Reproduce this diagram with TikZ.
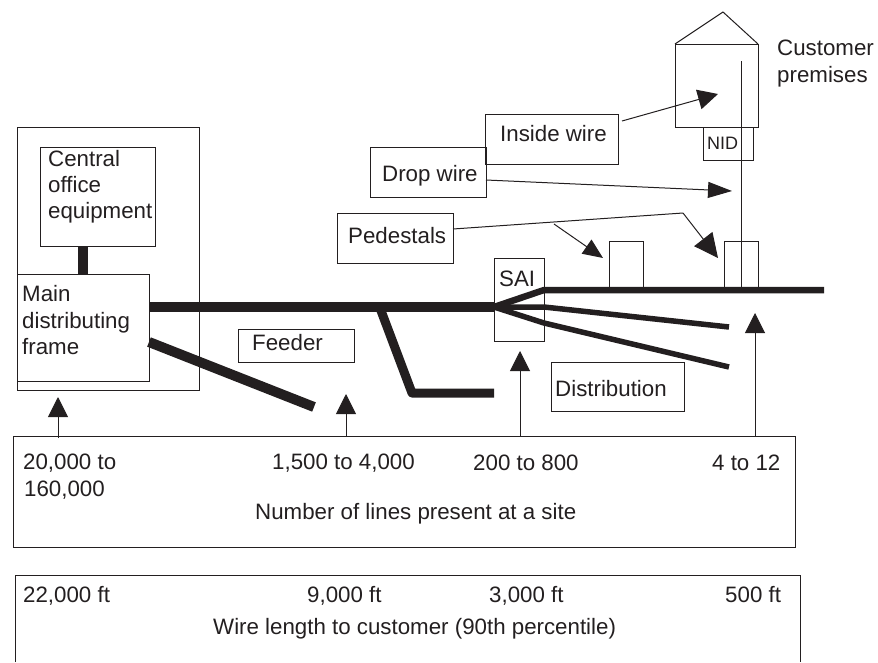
\documentclass[tikz,border=0pt]{standalone}
\usepackage{fontspec}
\setmainfont{Liberation Sans}
\usetikzlibrary{arrows.meta}
\definecolor{ink}{HTML}{231F20}
\tikzset{
  x=1pt,y=-1pt,
  boxd/.style={draw=ink,line width=1pt,fill=none},
  lbl/.style={font=\fontsize{22.3}{26}\selectfont,text=ink,inner sep=0pt,anchor=base west},
  thick wire/.style={draw=ink,line width=#1,line join=round},
  conn/.style={draw=ink,line width=1pt,-{Triangle[length=20pt,width=20pt]}},
  conndrop/.style={draw=ink,line width=1pt,-{Triangle[length=24pt,width=16pt]}},
  connped/.style={draw=ink,line width=1pt,-{Triangle[length=20pt,width=17pt]}},
  connbig/.style={draw=ink,line width=1pt,-{Triangle[length=24pt,width=23pt]}}
}
\begin{document}
\begin{tikzpicture}
\useasboundingbox (0,0) rectangle (878,662);
% boxes
\draw[boxd] (17,127) rectangle (199,390);
\draw[boxd] (40,147) rectangle (155,246);
\draw[thick wire=10pt] (83,246) -- (83,274);
\draw[boxd] (17,274) rectangle (149,381);
\draw[boxd] (485,114) rectangle (618,164);
\draw[boxd] (370,147) rectangle (486,197);
\draw[boxd] (337,213) rectangle (453,263);
\draw[boxd] (238,329) rectangle (354,362);
\draw[boxd] (494,258) rectangle (544,341);
\draw[boxd] (551,362) rectangle (684,411);
% house
\draw[boxd] (675,44) rectangle (758,127);
\draw[boxd] (675,44) -- (723,12) -- (758,44);
\draw[boxd] (703.5,127) rectangle (753,160);
\draw[boxd] (609,241) rectangle (643,288);
\draw[boxd] (724,241) rectangle (758,288);
\draw[boxd] (741,61) -- (741,290);
% thick wires
\draw[thick wire=10pt] (149,307) -- (494,307);
\draw[thick wire=6.5pt] (494,307) -- (544,290) -- (824,290);
\draw[thick wire=5.5pt] (494,307) -- (544,307) -- (729,327);
\draw[thick wire=5.5pt] (494,307) -- (544,323) -- (729,367);
\draw[thick wire=9pt] (380,308) -- (412,393) -- (494,393);
\draw[thick wire=10pt] (149,342) -- (314,407);
% arrows
\draw[conn] (622,121) -- (718,94);
\draw[conndrop] (486,180) -- (732,191);
\draw[boxd] (453,229) -- (683,213);
\draw[connbig] (683,213) -- (718,258);
\draw[connped] (554,224) -- (603,258);
\draw[conn] (58,438) -- (58,397);
\draw[conn] (346,436) -- (346,394);
\draw[conn] (520,436) -- (520,351);
\draw[conn] (755,436) -- (755,313);
% lower boxes
\draw[boxd] (13,436) rectangle (795,547);
\draw[boxd] (15,662) -- (15,575) -- (800,575) -- (800,662);
% labels
\node[lbl] (t1) at (48,166) {Central};
\node[lbl] (t2) at (48,192) {office};
\node[lbl] (t3) at (48,218) {equipment};
\node[lbl] (t4) at (22,301) {Main};
\node[lbl] (t5) at (22,328) {distributing};
\node[lbl] (t6) at (22,354) {frame};
\node[lbl] (t7) at (500,141) {Inside wire};
\node[lbl] (t8) at (382,181) {Drop wire};
\node[lbl] (t9) at (348,243) {Pedestals};
\node[lbl] (t10) at (252,350) {Feeder};
\node[lbl] (t11) at (499,286) {SAI};
\node[lbl] (t12) at (555,396) {Distribution};
\node[lbl] (t13) at (777,55) {Customer};
\node[lbl] (t14) at (777,82) {premises};
\node[lbl,font=\fontsize{18}{20}\selectfont] (t15) at (707,149) {NID};
\node[lbl] (t16) at (23,469) {20,000 to};
\node[lbl] (t17) at (24,496) {160,000};
\node[lbl] (t18) at (272,469) {1,500 to 4,000};
\node[lbl] (t19) at (473,470) {200 to 800};
\node[lbl] (t20) at (712,470) {4 to 12};
\node[lbl] (t21) at (255,519) {Number of lines present at a site};
\node[lbl] (t22) at (23,602) {22,000 ft};
\node[lbl] (t23) at (307,602) {9,000 ft};
\node[lbl] (t24) at (489,602) {3,000 ft};
\node[lbl] (t25) at (725,602) {500 ft};
\node[lbl] (t26) at (213,634) {Wire length to customer (90th percentile)};
\end{tikzpicture}
\end{document}
